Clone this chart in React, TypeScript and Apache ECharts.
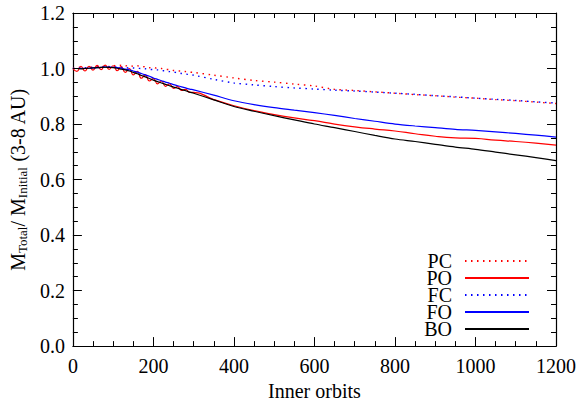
import React, { useEffect, useRef } from "react";
import * as echarts from "echarts";

const orbits = [
  0, 10, 20, 30, 40, 50, 60, 70, 80, 90, 100, 110, 120, 130, 140, 150, 160, 170, 180, 190, 200,
  210, 220, 230, 240, 250, 260, 270, 280, 290, 300, 350, 400, 450, 500, 550, 600, 650, 700, 750,
  800, 850, 900, 950, 1000, 1050, 1100, 1150, 1200,
];

const pcValues = [
  1.0, 1.003, 1.005, 1.002, 1.006, 1.004, 1.008, 1.006, 1.01, 1.007, 1.011, 1.008, 1.012, 1.009,
  1.012, 1.008, 1.01, 1.006, 1.007, 1.003, 1.004, 1.0, 1.0, 0.997, 0.996, 0.993, 0.992, 0.99,
  0.989, 0.987, 0.986, 0.976, 0.966, 0.957, 0.951, 0.944, 0.937, 0.925, 0.921, 0.916, 0.911,
  0.906, 0.902, 0.897, 0.893, 0.888, 0.884, 0.879, 0.874,
];

const poValues = [
  1.0, 0.99, 1.008, 0.991, 1.008, 0.994, 1.011, 0.996, 1.012, 0.997, 1.01, 0.992, 1.007, 0.986,
  1.0, 0.977, 0.99, 0.965, 0.977, 0.955, 0.964, 0.945, 0.955, 0.936, 0.945, 0.928, 0.935,
  0.921, 0.925, 0.914, 0.914, 0.888, 0.866, 0.848, 0.834, 0.822, 0.812, 0.8, 0.79, 0.782, 0.775,
  0.765, 0.756, 0.75, 0.748, 0.742, 0.737, 0.731, 0.724,
];

const fcValues = [
  1.0, 1.001, 1.002, 1.002, 1.003, 1.004, 1.005, 1.005, 1.006, 1.006, 1.006, 1.005, 1.004, 1.003,
  1.002, 1.002, 1.001, 1.0, 0.999, 0.997, 0.996, 0.995, 0.993, 0.991, 0.989, 0.987, 0.985, 0.982,
  0.98, 0.978, 0.976, 0.961, 0.948, 0.941, 0.935, 0.93, 0.926, 0.922, 0.919, 0.915, 0.911, 0.907,
  0.902, 0.898, 0.893, 0.889, 0.885, 0.88, 0.876,
];

const foValues = [
  1.0, 1.0, 1.0, 1.001, 1.001, 1.002, 1.003, 1.004, 1.005, 1.005, 1.004, 1.003, 1.001, 0.998,
  0.995, 0.991, 0.987, 0.982, 0.977, 0.972, 0.966, 0.961, 0.956, 0.951, 0.947, 0.942, 0.938,
  0.934, 0.93, 0.926, 0.923, 0.904, 0.884, 0.87, 0.859, 0.85, 0.841, 0.831, 0.82, 0.81, 0.8,
  0.793, 0.787, 0.781, 0.777, 0.772, 0.766, 0.76, 0.753,
];

const boValues = [
  1.0, 1.0, 0.999, 1.0, 1.001, 1.002, 1.003, 1.004, 1.005, 1.004, 1.003, 1.001, 0.998, 0.995,
  0.991, 0.986, 0.981, 0.975, 0.97, 0.964, 0.958, 0.953, 0.948, 0.943, 0.938, 0.933, 0.929,
  0.924, 0.92, 0.915, 0.911, 0.887, 0.863, 0.846, 0.83, 0.815, 0.8, 0.787, 0.773, 0.759, 0.746,
  0.737, 0.727, 0.717, 0.709, 0.699, 0.689, 0.679, 0.668,
];

const xTicks = { min: 0, max: 1200, interval: 200 };
const yTicks = { min: 0, max: 1.2, interval: 0.2 };

const FONT = "Liberation Serif";

const pair = (vals: number[]) => orbits.map((x, i) => [x, vals[i]]);

export default function App() {
  const ref = useRef<HTMLDivElement>(null);
  useEffect(() => {
    document.body.style.margin = "0";
    if (!ref.current) return;
    const chart = echarts.init(ref.current, undefined, { renderer: "svg" });
    const axisLine = { show: true, onZero: false, lineStyle: { color: "#000", width: 1.2 } };
    const axisTick = { show: true, inside: true, length: 9, lineStyle: { color: "#000", width: 1 } };
    const minorTick = { show: true, splitNumber: 4, length: 5, lineStyle: { color: "#000", width: 1 } };
    const labelStyle = { color: "#000", fontFamily: FONT, fontSize: 20 };
    const mkSeries = (name: string, vals: number[], color: string, dotted: boolean, smooth: number | boolean) => ({
      name,
      type: "line",
      data: pair(vals),
      showSymbol: false,
      symbol: "none",
      smooth,
      lineStyle: {
        color,
        width: dotted ? 1.4 : 1.2,
        type: dotted ? [1.5, 4.5] : "solid",
      },
      itemStyle: { color },
    });
    chart.setOption({
      animation: false,
      backgroundColor: "#fff",
      grid: { left: 69, right: 22, top: 13, bottom: 47 },
      xAxis: [
        {
          type: "value",
          ...xTicks,
          axisLine,
          axisTick,
          minorTick,
          splitLine: { show: false },
          axisLabel: { ...labelStyle, margin: 10, formatter: (v: number) => String(v) },
          name: "Inner orbits",
          nameLocation: "middle",
          nameGap: 28,
          nameTextStyle: { ...labelStyle },
        },
        {
          type: "value",
          position: "top",
          ...xTicks,
          axisLine,
          axisTick,
          minorTick,
          splitLine: { show: false },
          axisLabel: { show: false },
        },
      ],
      yAxis: [
        {
          type: "value",
          ...yTicks,
          axisLine,
          axisTick,
          minorTick,
          splitLine: { show: false },
          axisLabel: {
            ...labelStyle,
            margin: 8,
            padding: [0, 0, 11, 0],
            formatter: (v: number) => v.toFixed(1),
          },
          name: "{m|M}{s|Total}{m|/ M}{s|Initial}{m| (3-8 AU)}",
          nameLocation: "middle",
          nameRotate: 90,
          nameGap: 40,
          nameTextStyle: {
            ...labelStyle,
            rich: {
              m: { fontFamily: FONT, fontSize: 20, color: "#000" },
              s: { fontFamily: FONT, fontSize: 13, color: "#000", padding: [9, 0, 0, 0] },
            },
          },
        },
        {
          type: "value",
          position: "right",
          ...yTicks,
          axisLine,
          axisTick,
          minorTick,
          splitLine: { show: false },
          axisLabel: { show: false },
        },
      ],
      legend: {
        orient: "vertical",
        right: 44,
        top: 246,
        align: "right",
        itemWidth: 64,
        itemHeight: 10,
        itemGap: -3,
        itemStyle: { opacity: 0, borderWidth: 0 },
        data: ["PC", "PO", "FC", "FO", "BO"],
        textStyle: { ...labelStyle, lineHeight: 17, height: 17, padding: [0, 8, 0, 0] },
      },
      series: [
        mkSeries("PC", pcValues, "#ff0000", true, 0.3),
        mkSeries("PO", poValues, "#ff0000", false, 0.5),
        mkSeries("FC", fcValues, "#0000ff", true, 0.3),
        mkSeries("FO", foValues, "#0000ff", false, 0.3),
        mkSeries("BO", boValues, "#000000", false, 0.3),
      ],
    });
    return () => chart.dispose();
  }, []);
  return <div ref={ref} style={{ width: 579, height: 406 }} />;
}
